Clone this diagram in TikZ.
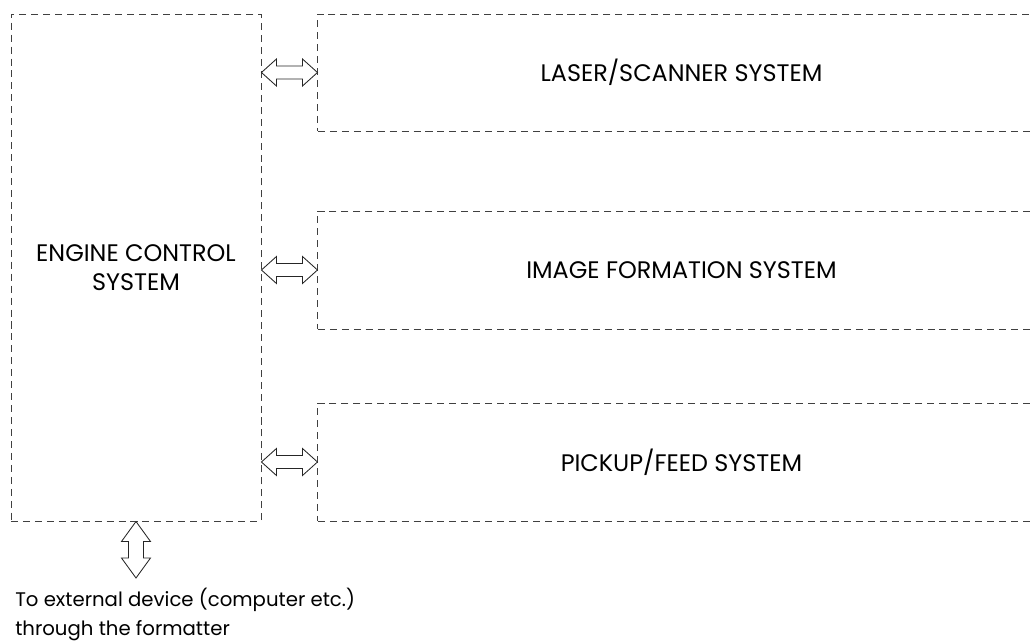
\documentclass[tikz,border=0pt]{standalone}
\usepackage{fontspec}
\setmainfont{Poppins}
\usepackage{tikz}
\usetikzlibrary{positioning,calc}

% hollow double arrow, tip to tip (horizontal / vertical)
\newcommand{\hdblarrow}[2]{%
  \draw[link] (#1) -- ++(15,-13.5) -- ++(0,7) -- ($(#2)+(-15,-6.5)$) -- ++(0,-7)
    -- (#2) -- ++(-15,13.5) -- ++(0,-7) -- ($(#1)+(15,6.5)$) -- ++(0,7) -- cycle;}
\newcommand{\vdblarrow}[2]{%
  \draw[link] (#1) -- ++(-14.5,20) -- ++(7,0) -- ($(#2)+(-7.5,-20)$) -- ++(-7,0)
    -- (#2) -- ++(14.5,-20) -- ++(-7,0) -- ($(#1)+(7.5,20)$) -- ++(7,0) -- cycle;}

\begin{document}
\begin{tikzpicture}[x=0.025cm, y=-0.025cm,
    sysbox/.style={rectangle, draw=black!75, line width=0.6pt,
                   dash pattern=on 5pt off 3.5pt, inner sep=0pt},
    link/.style={draw=black!85, line width=0.6pt, fill=white},
    lbl/.style={font=\fontsize{17}{21}\selectfont, align=center}]

    \useasboundingbox (0,0) rectangle (1031,643);

    % Engine control
    \node[sysbox, minimum width=6.25cm, minimum height=12.675cm] (engine) at (136,267.5) {};
    \node[lbl] (enginetxt) at (engine.center) {ENGINE CONTROL\\SYSTEM};

    % Subsystems (right side runs off the page)
    \node[sysbox, minimum width=18.175cm, minimum height=2.925cm] (laser) at (681.5,72.5) {};
    \node[sysbox, minimum width=18.175cm, minimum height=2.95cm] (image) at (681.5,270) {};
    \node[sysbox, minimum width=18.175cm, minimum height=2.95cm] (pickup) at (681.5,462) {};
    \node[lbl] (lasertxt) at (laser.center) {LASER/SCANNER SYSTEM};
    \node[lbl] (imagetxt) at (image.center) {IMAGE FORMATION SYSTEM};
    \node[lbl] (pickuptxt) at (pickup.center) {PICKUP/FEED SYSTEM};

    % Connections
    \foreach \s in {laser, image, pickup} {
        \hdblarrow{engine.east |- \s.west}{\s.west}
    }
    \coordinate (ext) at (136,578);
    \vdblarrow{engine.south}{ext}

    % External device
    \node[font=\fontsize{14}{20.3}\selectfont, align=left, anchor=north west, inner sep=0pt]
        (exttxt) at (15,588) {To external device (computer etc.)\\through the formatter};
\end{tikzpicture}
\end{document}
